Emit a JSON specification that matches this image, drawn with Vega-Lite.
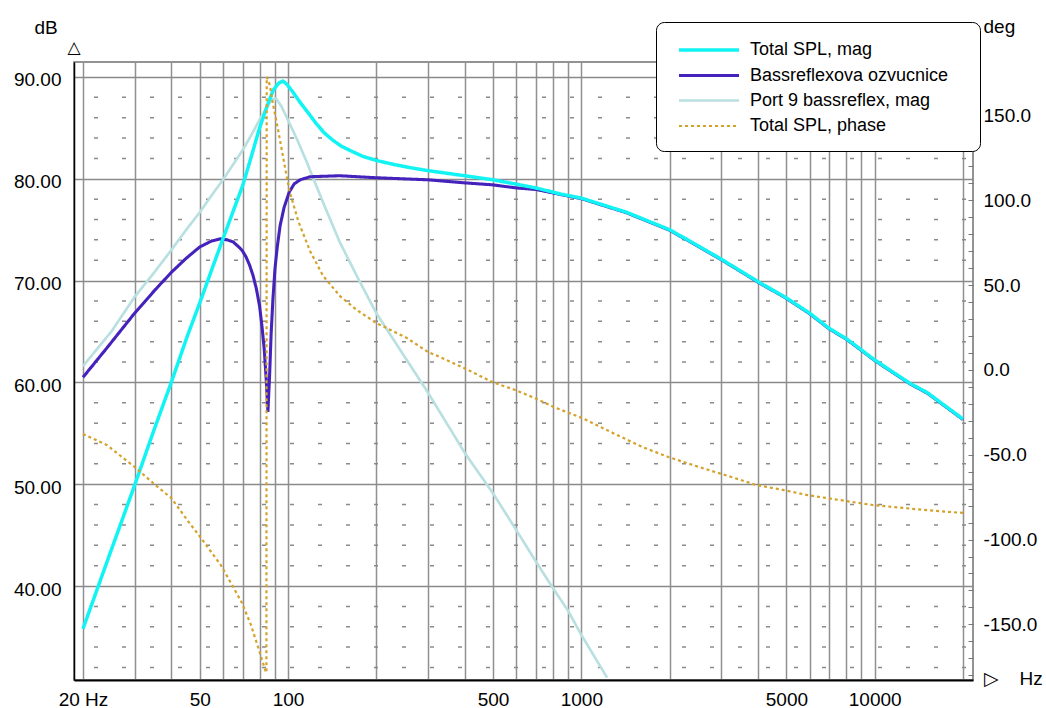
{
  "$schema": "https://vega.github.io/schema/vega-lite/v6.json",
  "width": 899,
  "height": 618,
  "autosize": {"type": "none"},
  "padding": {"left": 74, "top": 62, "right": 73, "bottom": 28},
  "background": "white",
  "title": {"text": "△", "anchor": "start", "align": "center", "frame": "group", "orient": "top", "offset": -40, "fontSize": 17, "fontWeight": "normal", "color": "#000", "font": "DejaVu Sans"},
  "config": {
    "font": "Liberation Sans",
    "view": {"stroke": "#707070", "strokeWidth": 1.5},
    "axis": {"labelFont": "Liberation Sans", "titleFont": "Liberation Sans", "labelColor": "#000", "titleColor": "#000", "labelFontSize": 19, "titleFontSize": 19, "titleFontWeight": "normal"},
    "legend": {
      "orient": "none", "legendX": 582, "legendY": -40,
      "fillColor": "white", "strokeColor": "#000", "cornerRadius": 8, "padding": 16,
      "symbolType": "M-3,0H3", "symbolSize": 400, "symbolOffset": 25,
      "labelFont": "Liberation Sans", "labelFontSize": 18, "labelColor": "#000", "labelOffset": 29, "labelLimit": 400,
      "rowPadding": 4.5
    }
  },
  "datasets": {
    "grid": [{"v":32},{"v":34},{"v":36},{"v":38},{"v":42},{"v":44},{"v":46},{"v":48},{"v":52},{"v":54},{"v":56},{"v":58},{"v":62},{"v":64},{"v":66},{"v":68},{"v":72},{"v":74},{"v":76},{"v":78},{"v":82},{"v":84},{"v":86},{"v":88}],
    "mag": [
      {"series":"Port 9 bassreflex, mag","f":20,"dB":61.6},
      {"series":"Port 9 bassreflex, mag","f":25,"dB":65.0},
      {"series":"Port 9 bassreflex, mag","f":30,"dB":68.4},
      {"series":"Port 9 bassreflex, mag","f":35,"dB":70.8},
      {"series":"Port 9 bassreflex, mag","f":40,"dB":73.0},
      {"series":"Port 9 bassreflex, mag","f":45,"dB":75.0},
      {"series":"Port 9 bassreflex, mag","f":50,"dB":76.7},
      {"series":"Port 9 bassreflex, mag","f":55,"dB":78.4},
      {"series":"Port 9 bassreflex, mag","f":60,"dB":79.9},
      {"series":"Port 9 bassreflex, mag","f":65,"dB":81.4},
      {"series":"Port 9 bassreflex, mag","f":70,"dB":82.8},
      {"series":"Port 9 bassreflex, mag","f":75,"dB":84.3},
      {"series":"Port 9 bassreflex, mag","f":80,"dB":85.8},
      {"series":"Port 9 bassreflex, mag","f":85,"dB":87.1},
      {"series":"Port 9 bassreflex, mag","f":88,"dB":87.8},
      {"series":"Port 9 bassreflex, mag","f":91,"dB":87.9},
      {"series":"Port 9 bassreflex, mag","f":95,"dB":87.1},
      {"series":"Port 9 bassreflex, mag","f":101,"dB":85.5},
      {"series":"Port 9 bassreflex, mag","f":108,"dB":83.7},
      {"series":"Port 9 bassreflex, mag","f":116,"dB":81.6},
      {"series":"Port 9 bassreflex, mag","f":132,"dB":77.6},
      {"series":"Port 9 bassreflex, mag","f":150,"dB":73.8},
      {"series":"Port 9 bassreflex, mag","f":172,"dB":70.4},
      {"series":"Port 9 bassreflex, mag","f":200,"dB":66.8},
      {"series":"Port 9 bassreflex, mag","f":254,"dB":62.2},
      {"series":"Port 9 bassreflex, mag","f":300,"dB":59.0},
      {"series":"Port 9 bassreflex, mag","f":400,"dB":53.1},
      {"series":"Port 9 bassreflex, mag","f":500,"dB":49.1},
      {"series":"Port 9 bassreflex, mag","f":600,"dB":45.5},
      {"series":"Port 9 bassreflex, mag","f":700,"dB":42.4},
      {"series":"Port 9 bassreflex, mag","f":800,"dB":39.8},
      {"series":"Port 9 bassreflex, mag","f":900,"dB":37.6},
      {"series":"Port 9 bassreflex, mag","f":1000,"dB":35.2},
      {"series":"Port 9 bassreflex, mag","f":1224,"dB":31.0},

      {"series":"Bassreflexova ozvucnice","f":20,"dB":60.5},
      {"series":"Bassreflexova ozvucnice","f":24,"dB":63.3},
      {"series":"Bassreflexova ozvucnice","f":30,"dB":66.8},
      {"series":"Bassreflexova ozvucnice","f":35,"dB":69.0},
      {"series":"Bassreflexova ozvucnice","f":40,"dB":70.8},
      {"series":"Bassreflexova ozvucnice","f":45,"dB":72.2},
      {"series":"Bassreflexova ozvucnice","f":50,"dB":73.3},
      {"series":"Bassreflexova ozvucnice","f":55,"dB":73.9},
      {"series":"Bassreflexova ozvucnice","f":59,"dB":74.1},
      {"series":"Bassreflexova ozvucnice","f":62,"dB":74.0},
      {"series":"Bassreflexova ozvucnice","f":65,"dB":73.8},
      {"series":"Bassreflexova ozvucnice","f":68,"dB":73.3},
      {"series":"Bassreflexova ozvucnice","f":70,"dB":72.9},
      {"series":"Bassreflexova ozvucnice","f":72,"dB":72.3},
      {"series":"Bassreflexova ozvucnice","f":74,"dB":71.5},
      {"series":"Bassreflexova ozvucnice","f":76,"dB":70.5},
      {"series":"Bassreflexova ozvucnice","f":78,"dB":69.2},
      {"series":"Bassreflexova ozvucnice","f":80,"dB":67.5},
      {"series":"Bassreflexova ozvucnice","f":81.6,"dB":65.4},
      {"series":"Bassreflexova ozvucnice","f":83,"dB":63.2},
      {"series":"Bassreflexova ozvucnice","f":84.2,"dB":60.5},
      {"series":"Bassreflexova ozvucnice","f":85.4,"dB":57.1},
      {"series":"Bassreflexova ozvucnice","f":86.5,"dB":60.5},
      {"series":"Bassreflexova ozvucnice","f":87.6,"dB":64.8},
      {"series":"Bassreflexova ozvucnice","f":88.8,"dB":68.1},
      {"series":"Bassreflexova ozvucnice","f":90.3,"dB":71.2},
      {"series":"Bassreflexova ozvucnice","f":91.9,"dB":73.3},
      {"series":"Bassreflexova ozvucnice","f":94,"dB":75.4},
      {"series":"Bassreflexova ozvucnice","f":97,"dB":77.2},
      {"series":"Bassreflexova ozvucnice","f":101,"dB":78.7},
      {"series":"Bassreflexova ozvucnice","f":105,"dB":79.5},
      {"series":"Bassreflexova ozvucnice","f":110,"dB":79.9},
      {"series":"Bassreflexova ozvucnice","f":119,"dB":80.2},
      {"series":"Bassreflexova ozvucnice","f":150,"dB":80.3},
      {"series":"Bassreflexova ozvucnice","f":200,"dB":80.1},
      {"series":"Bassreflexova ozvucnice","f":300,"dB":79.9},
      {"series":"Bassreflexova ozvucnice","f":400,"dB":79.6},
      {"series":"Bassreflexova ozvucnice","f":500,"dB":79.4},
      {"series":"Bassreflexova ozvucnice","f":600,"dB":79.1},
      {"series":"Bassreflexova ozvucnice","f":700,"dB":78.95},
      {"series":"Bassreflexova ozvucnice","f":850,"dB":78.45},
      {"series":"Bassreflexova ozvucnice","f":1000,"dB":78.05},
      {"series":"Bassreflexova ozvucnice","f":1430,"dB":76.65},
      {"series":"Bassreflexova ozvucnice","f":2000,"dB":74.95},
      {"series":"Bassreflexova ozvucnice","f":2540,"dB":73.25},
      {"series":"Bassreflexova ozvucnice","f":3000,"dB":72.05},
      {"series":"Bassreflexova ozvucnice","f":4000,"dB":69.85},
      {"series":"Bassreflexova ozvucnice","f":5000,"dB":68.25},
      {"series":"Bassreflexova ozvucnice","f":6000,"dB":66.75},
      {"series":"Bassreflexova ozvucnice","f":7000,"dB":65.25},
      {"series":"Bassreflexova ozvucnice","f":8000,"dB":64.25},
      {"series":"Bassreflexova ozvucnice","f":9000,"dB":63.15},
      {"series":"Bassreflexova ozvucnice","f":10000,"dB":62.15},
      {"series":"Bassreflexova ozvucnice","f":13200,"dB":59.85},
      {"series":"Bassreflexova ozvucnice","f":15100,"dB":58.95},
      {"series":"Bassreflexova ozvucnice","f":20000,"dB":56.35},

      {"series":"Total SPL, mag","f":20,"dB":35.8},
      {"series":"Total SPL, mag","f":24.1,"dB":42.3},
      {"series":"Total SPL, mag","f":30,"dB":49.9},
      {"series":"Total SPL, mag","f":34.9,"dB":55.3},
      {"series":"Total SPL, mag","f":40,"dB":60.0},
      {"series":"Total SPL, mag","f":45.3,"dB":64.5},
      {"series":"Total SPL, mag","f":50,"dB":67.8},
      {"series":"Total SPL, mag","f":55,"dB":71.1},
      {"series":"Total SPL, mag","f":60,"dB":74.1},
      {"series":"Total SPL, mag","f":65,"dB":76.8},
      {"series":"Total SPL, mag","f":70,"dB":79.3},
      {"series":"Total SPL, mag","f":75,"dB":82.2},
      {"series":"Total SPL, mag","f":80,"dB":85.0},
      {"series":"Total SPL, mag","f":85,"dB":87.2},
      {"series":"Total SPL, mag","f":89,"dB":88.7},
      {"series":"Total SPL, mag","f":93,"dB":89.4},
      {"series":"Total SPL, mag","f":96,"dB":89.6},
      {"series":"Total SPL, mag","f":99,"dB":89.3},
      {"series":"Total SPL, mag","f":104,"dB":88.5},
      {"series":"Total SPL, mag","f":110,"dB":87.5},
      {"series":"Total SPL, mag","f":117,"dB":86.5},
      {"series":"Total SPL, mag","f":125,"dB":85.4},
      {"series":"Total SPL, mag","f":133,"dB":84.5},
      {"series":"Total SPL, mag","f":142,"dB":83.8},
      {"series":"Total SPL, mag","f":152,"dB":83.2},
      {"series":"Total SPL, mag","f":165,"dB":82.7},
      {"series":"Total SPL, mag","f":180,"dB":82.2},
      {"series":"Total SPL, mag","f":200,"dB":81.8},
      {"series":"Total SPL, mag","f":230,"dB":81.4},
      {"series":"Total SPL, mag","f":260,"dB":81.1},
      {"series":"Total SPL, mag","f":300,"dB":80.8},
      {"series":"Total SPL, mag","f":400,"dB":80.3},
      {"series":"Total SPL, mag","f":500,"dB":79.9},
      {"series":"Total SPL, mag","f":700,"dB":79.1},
      {"series":"Total SPL, mag","f":850,"dB":78.5},
      {"series":"Total SPL, mag","f":1000,"dB":78.1},
      {"series":"Total SPL, mag","f":1430,"dB":76.7},
      {"series":"Total SPL, mag","f":2000,"dB":75.0},
      {"series":"Total SPL, mag","f":2540,"dB":73.3},
      {"series":"Total SPL, mag","f":3000,"dB":72.1},
      {"series":"Total SPL, mag","f":4000,"dB":69.9},
      {"series":"Total SPL, mag","f":5000,"dB":68.3},
      {"series":"Total SPL, mag","f":6000,"dB":66.8},
      {"series":"Total SPL, mag","f":7000,"dB":65.3},
      {"series":"Total SPL, mag","f":8000,"dB":64.3},
      {"series":"Total SPL, mag","f":9000,"dB":63.2},
      {"series":"Total SPL, mag","f":10000,"dB":62.2},
      {"series":"Total SPL, mag","f":13200,"dB":59.9},
      {"series":"Total SPL, mag","f":15100,"dB":59.0},
      {"series":"Total SPL, mag","f":20000,"dB":56.4}
    ],
    "phase": [
      {"series":"Total SPL, phase","f":20,"deg":-37.7},
      {"series":"Total SPL, phase","f":24.1,"deg":-44.2},
      {"series":"Total SPL, phase","f":30,"deg":-57.2},
      {"series":"Total SPL, phase","f":35.3,"deg":-67.8},
      {"series":"Total SPL, phase","f":40,"deg":-75.5},
      {"series":"Total SPL, phase","f":45.3,"deg":-88.4},
      {"series":"Total SPL, phase","f":50.5,"deg":-99.1},
      {"series":"Total SPL, phase","f":59,"deg":-115.0},
      {"series":"Total SPL, phase","f":65,"deg":-127.9},
      {"series":"Total SPL, phase","f":69.7,"deg":-137.4},
      {"series":"Total SPL, phase","f":74.8,"deg":-150.4},
      {"series":"Total SPL, phase","f":79.6,"deg":-165.1},
      {"series":"Total SPL, phase","f":83.6,"deg":-176.9},
      {"series":"Total SPL, phase","f":84.4,"deg":-178.5},
      {"series":"Total SPL, phase","f":84.6,"deg":172.8},
      {"series":"Total SPL, phase","f":86.7,"deg":168.0},
      {"series":"Total SPL, phase","f":88.8,"deg":157.0},
      {"series":"Total SPL, phase","f":92.2,"deg":143.0},
      {"series":"Total SPL, phase","f":96.2,"deg":125.6},
      {"series":"Total SPL, phase","f":101,"deg":106.0},
      {"series":"Total SPL, phase","f":108.5,"deg":87.5},
      {"series":"Total SPL, phase","f":119,"deg":70.0},
      {"series":"Total SPL, phase","f":131.7,"deg":55.5},
      {"series":"Total SPL, phase","f":150.5,"deg":43.5},
      {"series":"Total SPL, phase","f":171.5,"deg":35.4},
      {"series":"Total SPL, phase","f":200,"deg":27.7},
      {"series":"Total SPL, phase","f":254,"deg":18.9},
      {"series":"Total SPL, phase","f":300,"deg":10.6},
      {"series":"Total SPL, phase","f":329,"deg":7.7},
      {"series":"Total SPL, phase","f":398,"deg":1.2},
      {"series":"Total SPL, phase","f":497,"deg":-7.1},
      {"series":"Total SPL, phase","f":595,"deg":-11.8},
      {"series":"Total SPL, phase","f":706,"deg":-17.1},
      {"series":"Total SPL, phase","f":804,"deg":-21.8},
      {"series":"Total SPL, phase","f":1005,"deg":-28.3},
      {"series":"Total SPL, phase","f":1280,"deg":-37.1},
      {"series":"Total SPL, phase","f":1613,"deg":-45.4},
      {"series":"Total SPL, phase","f":1978,"deg":-51.3},
      {"series":"Total SPL, phase","f":2517,"deg":-57.2},
      {"series":"Total SPL, phase","f":3247,"deg":-63.1},
      {"series":"Total SPL, phase","f":3940,"deg":-67.8},
      {"series":"Total SPL, phase","f":4899,"deg":-70.8},
      {"series":"Total SPL, phase","f":5860,"deg":-73.7},
      {"series":"Total SPL, phase","f":6847,"deg":-75.5},
      {"series":"Total SPL, phase","f":8822,"deg":-78.4},
      {"series":"Total SPL, phase","f":9831,"deg":-79.6},
      {"series":"Total SPL, phase","f":14700,"deg":-82.5},
      {"series":"Total SPL, phase","f":20000,"deg":-84.3}
    ]
  },
  "layer": [
    {
      "data": {"name": "grid"},
      "mark": {"type": "rule", "color": "#8a8a8a", "strokeWidth": 1.5, "strokeDash": [4, 24], "strokeDashOffset": -7},
      "encoding": {
        "y": {"field": "v", "type": "quantitative", "scale": {"domain": [30.77, 91.47], "nice": false, "zero": false}, "axis": null}
      }
    },
    {
      "data": {"name": "mag"},
      "mark": {"type": "line", "clip": true},
      "encoding": {
        "x": {"field": "f", "type": "quantitative", "scale": {"type": "log", "domain": [18.64, 21634], "nice": false},
          "axis": {"values": [20,30,40,50,60,70,80,90,100,200,300,400,500,600,700,800,900,1000,2000,3000,4000,5000,6000,7000,8000,9000,10000,20000],
            "title": "▷\u00a0\u00a0\u00a0\u00a0Hz", "titleX": 909, "titleY": 4, "titleAlign": "left", "titleBaseline": "alphabetic", "titleAngle": 0,
            "grid": true, "gridColor": "#909090", "gridWidth": 1.5, "ticks": false, "domainColor": "#000", "domainWidth": 2,
            "labelPadding": 10, "labelFlush": false, "labelOverlap": false,
            "labelExpr": "datum.value == 20 ? '20 Hz' : (indexof([50,100,500,1000,5000,10000], datum.value) >= 0 ? format(datum.value, 'd') : '')"}},
        "y": {"field": "dB", "type": "quantitative", "scale": {"domain": [30.77, 91.47], "nice": false, "zero": false},
          "axis": {"orient": "left", "values": [40,50,60,70,80,90], "format": ".2f", "grid": true, "gridColor": "#8a8a8a", "gridWidth": 1.5,
            "ticks": false, "domainColor": "#000", "domainWidth": 1.5, "labelPadding": 13, "labelOffset": 3, "labelOverlap": false,
            "title": "dB", "titleAngle": 0, "titleAlign": "left", "titleBaseline": "alphabetic",
            "titleX": -40, "titleY": -29}},
        "color": {"field": "series", "type": "nominal", "title": null,
          "legend": {"labelExpr": "datum.label + '\u00a0\u00a0\u00a0\u200b'"},
          "scale": {"domain": ["Total SPL, mag", "Bassreflexova ozvucnice", "Port 9 bassreflex, mag", "Total SPL, phase"], "range": ["#12F4F4", "#4422BB", "#B8E0E0", "#D4A22A"]}},
        "strokeWidth": {"field": "series", "type": "nominal", "title": null,
          "scale": {"domain": ["Total SPL, mag", "Bassreflexova ozvucnice", "Port 9 bassreflex, mag", "Total SPL, phase"], "range": [3.5, 2.2, 2, 1.2]}},
        "strokeDash": {"field": "series", "type": "nominal", "title": null,
          "scale": {"domain": ["Total SPL, mag", "Bassreflexova ozvucnice", "Port 9 bassreflex, mag", "Total SPL, phase"], "range": [[1, 0], [1, 0], [1, 0], [3, 3]]}}
      }
    },
    {
      "data": {"name": "phase"},
      "mark": {"type": "line", "clip": true},
      "encoding": {
        "x": {"field": "f", "type": "quantitative", "scale": {"type": "log", "domain": [18.64, 21634], "nice": false},
          "axis": {"values": [20,30,40,50,60,70,80,90,100,200,300,400,500,600,700,800,900,1000,2000,3000,4000,5000,6000,7000,8000,9000,10000,20000],
            "title": "▷\u00a0\u00a0\u00a0\u00a0Hz", "titleX": 909, "titleY": 4, "titleAlign": "left", "titleBaseline": "alphabetic", "titleAngle": 0,
            "grid": true, "gridColor": "#909090", "gridWidth": 1.5, "ticks": false, "domainColor": "#000", "domainWidth": 2,
            "labelPadding": 10, "labelFlush": false, "labelOverlap": false,
            "labelExpr": "datum.value == 20 ? '20 Hz' : (indexof([50,100,500,1000,5000,10000], datum.value) >= 0 ? format(datum.value, 'd') : '')"}},
        "y": {"field": "deg", "type": "quantitative", "scale": {"domain": [-182.8, 181.6], "nice": false, "zero": false},
          "axis": {"orient": "right", "values": [-180,-170,-160,-150,-140,-130,-120,-110,-100,-90,-80,-70,-60,-50,-40,-30,-20,-10,0,10,20,30,40,50,60,70,80,90,100,110,120,130,140,150,160,170,180],
            "grid": false, "ticks": true, "tickSize": -5, "tickColor": "#777", "tickWidth": 1, "domain": false, "labelPadding": 15, "labelOverlap": false,
            "labelExpr": "datum.value % 50 == 0 ? (datum.value < 0 ? '-' : '') + format(abs(datum.value), '.1f') : ''",
            "title": "deg", "titleAngle": 0, "titleAlign": "left", "titleBaseline": "alphabetic", "titleX": 10, "titleY": -30}},
        "color": {"field": "series", "type": "nominal", "title": null,
          "legend": {"labelExpr": "datum.label + '\u00a0\u00a0\u00a0\u200b'"},
          "scale": {"domain": ["Total SPL, mag", "Bassreflexova ozvucnice", "Port 9 bassreflex, mag", "Total SPL, phase"], "range": ["#12F4F4", "#4422BB", "#B8E0E0", "#D4A22A"]}},
        "strokeWidth": {"field": "series", "type": "nominal", "title": null,
          "scale": {"domain": ["Total SPL, mag", "Bassreflexova ozvucnice", "Port 9 bassreflex, mag", "Total SPL, phase"], "range": [3.5, 2.2, 2, 1.2]}},
        "strokeDash": {"field": "series", "type": "nominal", "title": null,
          "scale": {"domain": ["Total SPL, mag", "Bassreflexova ozvucnice", "Port 9 bassreflex, mag", "Total SPL, phase"], "range": [[1, 0], [1, 0], [1, 0], [3, 3]]}}
      }
    }
  ],
  "resolve": {"scale": {"y": "independent"}}
}
